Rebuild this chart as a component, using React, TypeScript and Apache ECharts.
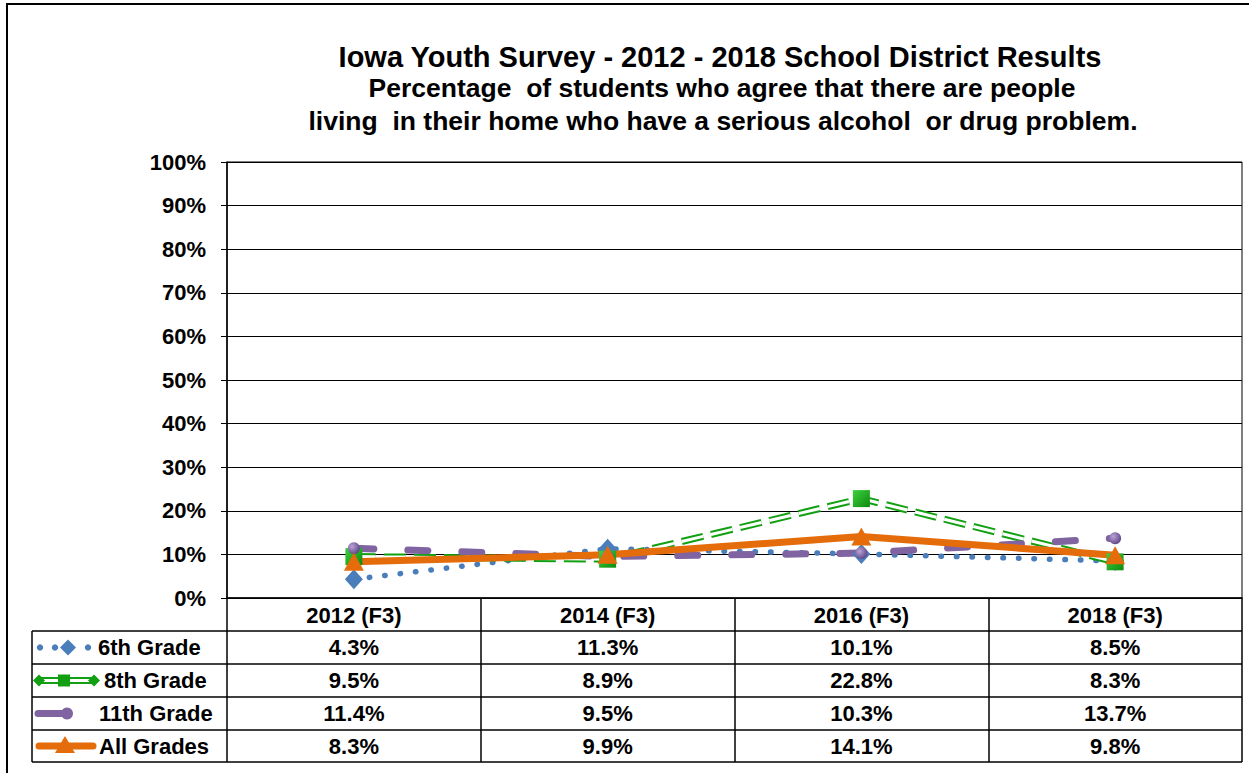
import React, { useEffect, useRef } from "react";
import * as echarts from "echarts";

const categories = ["2012 (F3)", "2014 (F3)", "2016 (F3)", "2018 (F3)"];
const grade6 = [4.3, 11.3, 10.1, 8.5];
const grade8 = [9.5, 8.9, 22.8, 8.3];
const grade11 = [11.4, 9.5, 10.3, 13.7];
const allGrades = [8.3, 9.9, 14.1, 9.8];
const seriesNames = ["6th Grade", "8th Grade", "11th Grade", "All Grades"];
const yTicks = [0, 10, 20, 30, 40, 50, 60, 70, 80, 90, 100];

const titleMain = "Iowa Youth Survey - 2012 - 2018 School District Results";
const titleSub1 = "Percentage  of students who agree that there are people";
const titleSub2 = "living  in their home who have a serious alcohol  or drug problem.";

const FONT = "'Liberation Sans', Arial, sans-serif";
const BLUE = "#4A7EBB";
const GREEN = "#12A012";
const PURPLE = "#8064A2";
const ORANGE = "#E46C0A";

export default function App() {
  const ref = useRef<HTMLDivElement>(null);
  useEffect(() => {
    if (!ref.current) return;
    const chart = echarts.init(ref.current, null, { renderer: "svg" });

    const gridLeft = 227;
    const gridRight = 1242;
    const gridTop = 162;
    const gridBottom = 598;
    const colW = (gridRight - gridLeft) / categories.length;
    const rowLines = [631, 664, 697, 730, 762];
    const tableLeft = 32;
    const rowCenters = rowLines.slice(0, 4).map((y, i) => (y + rowLines[i + 1]) / 2);
    const allData = [grade6, grade8, grade11, allGrades];

    const graphics: any[] = [];
    graphics.push({
      type: "rect",
      shape: { x: 7, y: 4, width: 1270, height: 820 },
      style: { fill: "none", stroke: "#000", lineWidth: 2 },
      silent: true,
    });
    graphics.push({
      type: "text",
      x: 720,
      y: 57,
      style: { text: titleMain, font: `bold 29px ${FONT}`, fill: "#000", textAlign: "center", textVerticalAlign: "middle" },
    });
    graphics.push({
      type: "text",
      x: 722,
      y: 88,
      style: { text: titleSub1, font: `bold 26.5px ${FONT}`, fill: "#000", textAlign: "center", textVerticalAlign: "middle" },
    });
    graphics.push({
      type: "text",
      x: 723,
      y: 121,
      style: { text: titleSub2, font: `bold 26.5px ${FONT}`, fill: "#000", textAlign: "center", textVerticalAlign: "middle" },
    });
    rowLines.forEach((y) => {
      graphics.push({
        type: "line",
        shape: { x1: tableLeft, y1: y, x2: gridRight, y2: y },
        style: { stroke: "#000", lineWidth: 1.5 },
      });
    });
    graphics.push({
      type: "line",
      shape: { x1: tableLeft, y1: rowLines[0], x2: tableLeft, y2: rowLines[4] },
      style: { stroke: "#000", lineWidth: 1.5 },
    });
    allData.forEach((arr, r) => {
      arr.forEach((v, c) => {
        graphics.push({
          type: "text",
          x: gridLeft + colW * (c + 0.5),
          y: rowCenters[r],
          style: {
            text: v.toFixed(1) + "%",
            font: `bold 22px ${FONT}`,
            fill: "#000",
            textAlign: "center",
            textVerticalAlign: "middle",
          },
        });
      });
    });
    const labelX = [98, 104, 99, 99];
    seriesNames.forEach((n, r) => {
      graphics.push({
        type: "text",
        x: labelX[r],
        y: rowCenters[r],
        style: { text: n, font: `bold 22px ${FONT}`, fill: "#000", textAlign: "left", textVerticalAlign: "middle" },
      });
    });
    const y0 = rowCenters[0];
    [40, 55, 88].forEach((x) =>
      graphics.push({ type: "circle", shape: { cx: x, cy: y0, r: 3.2 }, style: { fill: BLUE } })
    );
    graphics.push({
      type: "polygon",
      shape: { points: [[68, y0 - 8], [76, y0], [68, y0 + 8], [60, y0]] },
      style: { fill: BLUE },
    });
    const y1 = rowCenters[1];
    graphics.push({ type: "line", shape: { x1: 39, y1: y1, x2: 94, y2: y1 }, style: { stroke: GREEN, lineWidth: 7 } });
    graphics.push({ type: "line", shape: { x1: 39, y1: y1, x2: 94, y2: y1 }, style: { stroke: "#fff", lineWidth: 3 } });
    [39, 94].forEach((x) =>
      graphics.push({
        type: "polygon",
        shape: { points: [[x, y1 - 6], [x + 6, y1], [x, y1 + 6], [x - 6, y1]] },
        style: { fill: GREEN },
      })
    );
    graphics.push({ type: "rect", shape: { x: 58, y: y1 - 6, width: 12, height: 12 }, style: { fill: GREEN } });
    const y2 = rowCenters[2];
    graphics.push({
      type: "line",
      shape: { x1: 38, y1: y2, x2: 62, y2: y2 },
      style: { stroke: PURPLE, lineWidth: 7, lineCap: "round" },
    });
    graphics.push({ type: "circle", shape: { cx: 67, cy: y2, r: 6 }, style: { fill: PURPLE } });
    const y3 = rowCenters[3];
    graphics.push({
      type: "line",
      shape: { x1: 39, y1: y3, x2: 93, y2: y3 },
      style: { stroke: ORANGE, lineWidth: 7, lineCap: "round" },
    });
    graphics.push({
      type: "polygon",
      shape: { points: [[65, y3 - 10], [75, y3 + 7], [55, y3 + 7]] },
      style: { fill: ORANGE },
    });

    const dash8 = [22, 8];
    chart.setOption({
      animation: false,
      backgroundColor: "#fff",
      grid: {
        left: gridLeft,
        right: 1249 - gridRight,
        top: gridTop,
        bottom: 773 - gridBottom,
        show: true,
        borderColor: "#000",
        borderWidth: 1,
        containLabel: false,
      },
      xAxis: {
        type: "category",
        data: categories,
        boundaryGap: true,
        axisLine: { lineStyle: { color: "#000", width: 1.5 } },
        axisTick: { show: true, length: 164, lineStyle: { color: "#000", width: 1.5 } },
        axisLabel: {
          color: "#000",
          fontFamily: FONT,
          fontWeight: "bold",
          fontSize: 22,
          margin: 6,
        },
      },
      yAxis: {
        type: "value",
        min: yTicks[0],
        max: yTicks[yTicks.length - 1],
        interval: 10,
        axisLine: { show: true, lineStyle: { color: "#000", width: 1.5 } },
        axisTick: { show: true, length: 6, lineStyle: { color: "#000" } },
        axisLabel: {
          formatter: "{value}%",
          color: "#000",
          fontFamily: FONT,
          fontWeight: "bold",
          fontSize: 22,
          margin: 21,
        },
        splitLine: { show: true, lineStyle: { color: "#000", width: 1 } },
      },
      series: [
        {
          name: seriesNames[0],
          type: "line",
          data: grade6,
          symbol: "diamond",
          symbolSize: [18, 20],
          itemStyle: { color: BLUE },
          lineStyle: { color: BLUE, width: 5.5, type: [0.5, 15], cap: "round" },
        },
        {
          name: seriesNames[1] + " base",
          type: "line",
          data: grade8,
          symbol: "none",
          lineStyle: { color: GREEN, width: 7, type: dash8 },
        },
        {
          name: seriesNames[1],
          type: "line",
          data: grade8,
          symbol: "rect",
          symbolSize: 17,
          itemStyle: {
            color: new echarts.graphic.LinearGradient(0, 0, 1, 1, [
              { offset: 0, color: "#3ED03E" },
              { offset: 1, color: "#0E8A0E" },
            ]),
          },
          lineStyle: { color: "#fff", width: 3, type: dash8 },
        },
        {
          name: seriesNames[2],
          type: "line",
          data: grade11,
          symbol: "circle",
          symbolSize: 12,
          itemStyle: {
            color: new echarts.graphic.RadialGradient(0.35, 0.35, 0.7, [
              { offset: 0, color: "#B9A3D6" },
              { offset: 1, color: "#5E4485" },
            ]),
          },
          lineStyle: { color: PURPLE, width: 7, type: [20, 34], cap: "round" },
        },
        {
          name: seriesNames[3],
          type: "line",
          data: allGrades,
          symbol: "triangle",
          symbolSize: [20, 18],
          itemStyle: { color: ORANGE },
          lineStyle: { color: ORANGE, width: 7 },
        },
      ],
      graphic: graphics,
    });
    return () => chart.dispose();
  }, []);
  return <div ref={ref} style={{ position: "fixed", left: 0, top: 0, width: 1249, height: 773 }} />;
}
